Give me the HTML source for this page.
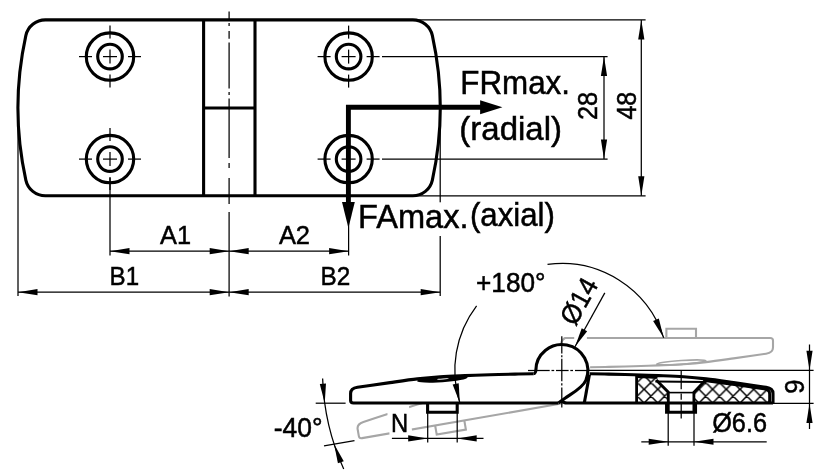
<!DOCTYPE html>
<html><head><meta charset="utf-8"><title>Hinge drawing</title>
<style>
html,body{margin:0;padding:0;background:#fff;}
svg{display:block;will-change:transform;}
text{font-family:"Liberation Sans",sans-serif;fill:#000;}
</style></head>
<body>
<svg width="827" height="472" viewBox="0 0 827 472">
<rect width="827" height="472" fill="#fff"/>
<path d="M45.37,19.9 A20.0,20.0 0 0 0 25.83,35.61 A337.0,337.0 0 0 0 25.83,180.09 A20.0,20.0 0 0 0 45.37,195.8 L412.83,195.8 A20.0,20.0 0 0 0 432.37,180.09 A337.0,337.0 0 0 0 432.37,35.61 A20.0,20.0 0 0 0 412.83,19.9 Z" stroke="#000" stroke-width="3.1" fill="none" />
<line x1="203.60" y1="19.90" x2="203.60" y2="195.80" stroke="#000" stroke-width="3.1" />
<line x1="255.00" y1="19.90" x2="255.00" y2="195.80" stroke="#000" stroke-width="3.1" />
<line x1="203.60" y1="108.00" x2="255.00" y2="108.00" stroke="#000" stroke-width="3.1" />
<line x1="229.10" y1="11.50" x2="229.10" y2="20.00" stroke="#000" stroke-width="1.25" />
<line x1="229.10" y1="23.00" x2="229.10" y2="26.00" stroke="#000" stroke-width="1.25" />
<line x1="229.10" y1="31.00" x2="229.10" y2="38.70" stroke="#000" stroke-width="1.25" />
<line x1="229.10" y1="42.60" x2="229.10" y2="88.50" stroke="#000" stroke-width="1.25" />
<line x1="229.10" y1="92.00" x2="229.10" y2="95.00" stroke="#000" stroke-width="1.25" />
<line x1="229.10" y1="98.40" x2="229.10" y2="158.00" stroke="#000" stroke-width="1.25" />
<line x1="229.10" y1="163.00" x2="229.10" y2="168.00" stroke="#000" stroke-width="1.25" />
<line x1="229.10" y1="178.00" x2="229.10" y2="204.00" stroke="#000" stroke-width="1.25" />
<line x1="229.10" y1="212.00" x2="229.10" y2="296.50" stroke="#000" stroke-width="1.25" />
<circle cx="110" cy="56.6" r="23.7" fill="none" stroke="#000" stroke-width="3.1"/>
<circle cx="110" cy="56.6" r="12.3" fill="none" stroke="#000" stroke-width="3.1"/>
<line x1="103.00" y1="56.60" x2="117.00" y2="56.60" stroke="#000" stroke-width="1.25" />
<line x1="110.00" y1="49.60" x2="110.00" y2="63.60" stroke="#000" stroke-width="1.25" />
<line x1="92.00" y1="56.60" x2="79.00" y2="56.60" stroke="#000" stroke-width="1.25" />
<line x1="110.00" y1="38.60" x2="110.00" y2="25.60" stroke="#000" stroke-width="1.25" />
<line x1="128.00" y1="56.60" x2="141.00" y2="56.60" stroke="#000" stroke-width="1.25" />
<line x1="110.00" y1="74.60" x2="110.00" y2="87.60" stroke="#000" stroke-width="1.25" />
<circle cx="110" cy="159.1" r="23.7" fill="none" stroke="#000" stroke-width="3.1"/>
<circle cx="110" cy="159.1" r="12.3" fill="none" stroke="#000" stroke-width="3.1"/>
<line x1="103.00" y1="159.10" x2="117.00" y2="159.10" stroke="#000" stroke-width="1.25" />
<line x1="110.00" y1="152.10" x2="110.00" y2="166.10" stroke="#000" stroke-width="1.25" />
<line x1="92.00" y1="159.10" x2="79.00" y2="159.10" stroke="#000" stroke-width="1.25" />
<line x1="110.00" y1="141.10" x2="110.00" y2="128.10" stroke="#000" stroke-width="1.25" />
<line x1="128.00" y1="159.10" x2="141.00" y2="159.10" stroke="#000" stroke-width="1.25" />
<line x1="110.00" y1="177.10" x2="110.00" y2="190.10" stroke="#000" stroke-width="1.25" />
<circle cx="348.6" cy="56.6" r="23.7" fill="none" stroke="#000" stroke-width="3.1"/>
<circle cx="348.6" cy="56.6" r="12.3" fill="none" stroke="#000" stroke-width="3.1"/>
<line x1="341.60" y1="56.60" x2="355.60" y2="56.60" stroke="#000" stroke-width="1.25" />
<line x1="348.60" y1="49.60" x2="348.60" y2="63.60" stroke="#000" stroke-width="1.25" />
<line x1="330.60" y1="56.60" x2="317.60" y2="56.60" stroke="#000" stroke-width="1.25" />
<line x1="348.60" y1="38.60" x2="348.60" y2="25.60" stroke="#000" stroke-width="1.25" />
<line x1="366.60" y1="56.60" x2="379.60" y2="56.60" stroke="#000" stroke-width="1.25" />
<line x1="348.60" y1="74.60" x2="348.60" y2="87.60" stroke="#000" stroke-width="1.25" />
<circle cx="348.6" cy="159.1" r="23.7" fill="none" stroke="#000" stroke-width="3.1"/>
<circle cx="348.6" cy="159.1" r="12.3" fill="none" stroke="#000" stroke-width="3.1"/>
<line x1="341.60" y1="159.10" x2="355.60" y2="159.10" stroke="#000" stroke-width="1.25" />
<line x1="348.60" y1="152.10" x2="348.60" y2="166.10" stroke="#000" stroke-width="1.25" />
<line x1="330.60" y1="159.10" x2="317.60" y2="159.10" stroke="#000" stroke-width="1.25" />
<line x1="348.60" y1="141.10" x2="348.60" y2="128.10" stroke="#000" stroke-width="1.25" />
<line x1="366.60" y1="159.10" x2="379.60" y2="159.10" stroke="#000" stroke-width="1.25" />
<line x1="348.60" y1="177.10" x2="348.60" y2="190.10" stroke="#000" stroke-width="1.25" />
<line x1="110.00" y1="178.00" x2="110.00" y2="255.50" stroke="#000" stroke-width="1.25" />
<line x1="348.60" y1="178.00" x2="348.60" y2="255.50" stroke="#000" stroke-width="1.25" />
<line x1="382.00" y1="56.60" x2="607.60" y2="56.60" stroke="#000" stroke-width="1.25" />
<line x1="382.00" y1="159.10" x2="607.60" y2="159.10" stroke="#000" stroke-width="1.25" />
<line x1="413.00" y1="19.90" x2="645.60" y2="19.90" stroke="#000" stroke-width="1.25" />
<line x1="413.00" y1="195.80" x2="645.60" y2="195.80" stroke="#000" stroke-width="1.25" />
<line x1="18.00" y1="107.85" x2="18.00" y2="296.00" stroke="#000" stroke-width="1.25" />
<line x1="440.20" y1="107.85" x2="440.20" y2="296.00" stroke="#000" stroke-width="1.25" />
<line x1="604.00" y1="56.60" x2="604.00" y2="159.10" stroke="#000" stroke-width="1.25" />
<polygon points="604.00,56.60 607.10,76.10 600.90,76.10" fill="#000"/>
<polygon points="604.00,159.10 600.90,139.60 607.10,139.60" fill="#000"/>
<line x1="641.30" y1="19.90" x2="641.30" y2="195.80" stroke="#000" stroke-width="1.25" />
<polygon points="641.30,19.90 644.40,39.40 638.20,39.40" fill="#000"/>
<polygon points="641.30,195.80 638.20,176.30 644.40,176.30" fill="#000"/>
<text x="-0.93" y="0" font-size="27.4" textLength="28.26" lengthAdjust="spacingAndGlyphs" stroke="#000" stroke-width="0.5" transform="translate(597.4 119.1) rotate(-90)">28</text>
<text x="0.0" y="0" font-size="27.4" textLength="27.83" lengthAdjust="spacingAndGlyphs" stroke="#000" stroke-width="0.5" transform="translate(636.1 119.6) rotate(-90)">48</text>
<line x1="110.00" y1="251.20" x2="348.60" y2="251.20" stroke="#000" stroke-width="1.25" />
<polygon points="110.00,251.20 129.50,248.10 129.50,254.30" fill="#000"/>
<polygon points="229.20,251.20 209.70,254.30 209.70,248.10" fill="#000"/>
<polygon points="229.20,251.20 248.70,248.10 248.70,254.30" fill="#000"/>
<polygon points="348.60,251.20 329.10,254.30 329.10,248.10" fill="#000"/>
<line x1="18.00" y1="292.20" x2="440.20" y2="292.20" stroke="#000" stroke-width="1.25" />
<polygon points="18.00,292.20 37.50,289.10 37.50,295.30" fill="#000"/>
<polygon points="229.20,292.20 209.70,295.30 209.70,289.10" fill="#000"/>
<polygon points="229.20,292.20 248.70,289.10 248.70,295.30" fill="#000"/>
<polygon points="440.20,292.20 420.70,295.30 420.70,289.10" fill="#000"/>
<text x="160.0" y="243.6" font-size="26.4" textLength="31.03" lengthAdjust="spacingAndGlyphs" stroke="#000" stroke-width="0.5">A1</text>
<text x="278.9" y="243.6" font-size="26.4" textLength="31.14" lengthAdjust="spacingAndGlyphs" stroke="#000" stroke-width="0.5">A2</text>
<text x="109.57" y="284.7" font-size="26.4" textLength="29.5" lengthAdjust="spacingAndGlyphs" stroke="#000" stroke-width="0.5">B1</text>
<text x="320.46" y="284.7" font-size="26.4" textLength="29.72" lengthAdjust="spacingAndGlyphs" stroke="#000" stroke-width="0.5">B2</text>
<path d="M348.4,204 L348.4,107.25 L482,107.25" stroke="#000" stroke-width="4.9" fill="none" stroke-linejoin="miter"/>
<polygon points="502.40,107.25 480.10,114.15 480.10,100.35" fill="#000"/>
<polygon points="348.40,228.00 342.00,202.00 354.80,202.00" fill="#000"/>
<rect x="358" y="202.3" width="198" height="33.7" fill="#fff"/>
<text x="460.24" y="93.75" font-size="33.8" textLength="109.79" lengthAdjust="spacingAndGlyphs" stroke="#000" stroke-width="0.5">FRmax.</text>
<text x="459.33" y="140.3" font-size="33.5" textLength="102.63" lengthAdjust="spacingAndGlyphs" stroke="#000" stroke-width="0.5">(radial)</text>
<text x="358.07" y="227.75" font-size="33.8" textLength="110.4" lengthAdjust="spacingAndGlyphs" stroke="#000" stroke-width="0.5">FAmax.</text>
<text x="469.94" y="225.6" font-size="33.5" textLength="85.03" lengthAdjust="spacingAndGlyphs" stroke="#000" stroke-width="0.5">(axial)</text>
<g transform="rotate(-9.85 561.8 370.5)">
<path d="M533.50,373.80 C530.42,373.85 522.25,373.95 515.00,374.10 C507.75,374.25 498.33,374.45 490.00,374.70 C481.67,374.95 473.33,375.25 465.00,375.60 C456.67,375.95 447.93,376.25 440.00,376.80 C432.07,377.35 425.73,377.93 417.40,378.90 C409.07,379.87 397.90,381.50 390.00,382.60 C382.10,383.70 375.42,384.72 370.00,385.50 C364.58,386.28 359.58,387.00 357.50,387.30 Q350.6,388.3 350.6,393.5 L350.6,400.5 Q350.6,403.0 353.5,403.0 L558.5,403.0" stroke="#a6a6a6" stroke-width="2.1" fill="none" />
<path d="M427.6,403.0 L427.6,412.3 L457.2,412.3 L457.2,403.0" stroke="#a6a6a6" stroke-width="2.1" fill="none" />
</g>
<g transform="rotate(180 561.8 370.5)">
<path d="M533.50,373.80 C530.42,373.85 522.25,373.95 515.00,374.10 C507.75,374.25 498.33,374.45 490.00,374.70 C481.67,374.95 473.33,375.25 465.00,375.60 C456.67,375.95 447.93,376.25 440.00,376.80 C432.07,377.35 425.73,377.93 417.40,378.90 C409.07,379.87 397.90,381.50 390.00,382.60 C382.10,383.70 375.42,384.72 370.00,385.50 C364.58,386.28 359.58,387.00 357.50,387.30 Q350.6,388.3 350.6,393.5 L350.6,400.5 Q350.6,403.0 353.5,403.0 L558.5,403.0 Q561,402 562.5,398" stroke="#a6a6a6" stroke-width="2.1" fill="none" />
<path d="M427.6,403.0 L427.6,412.3 L457.2,412.3 L457.2,403.0" stroke="#a6a6a6" stroke-width="2.1" fill="none" />
<ellipse cx="442.3" cy="378.6" rx="24.6" ry="1.9" fill="none" stroke="#a6a6a6" stroke-width="1.7" transform="rotate(-4 442.3 378.6)"/>
</g>
<rect x="574.2" y="335" width="12.7" height="6" fill="#fff"/>
<polygon points="386.5,404.6 408.8,404.6 412.7,436 389.7,436" fill="#fff"/>
<path d="M533.50,373.80 C530.42,373.85 522.25,373.95 515.00,374.10 C507.75,374.25 498.33,374.45 490.00,374.70 C481.67,374.95 473.33,375.25 465.00,375.60 C456.67,375.95 447.93,376.25 440.00,376.80 C432.07,377.35 425.73,377.93 417.40,378.90 C409.07,379.87 397.90,381.50 390.00,382.60 C382.10,383.70 375.42,384.72 370.00,385.50 C364.58,386.28 359.58,387.00 357.50,387.30 Q350.6,388.3 350.6,393.5 L350.6,400.5 Q350.6,403.0 353.5,403.0 L558.5,403.0 L558.5,403.0 L580,389 L585.91,380.24 L561.8,370.5 L536,370.5 Z" stroke="none" stroke-width="0" fill="#fff" />
<circle cx="561.8" cy="370.5" r="26.0" fill="#fff"/>
<path d="M533.50,373.80 C530.42,373.85 522.25,373.95 515.00,374.10 C507.75,374.25 498.33,374.45 490.00,374.70 C481.67,374.95 473.33,375.25 465.00,375.60 C456.67,375.95 447.93,376.25 440.00,376.80 C432.07,377.35 425.73,377.93 417.40,378.90 C409.07,379.87 397.90,381.50 390.00,382.60 C382.10,383.70 375.42,384.72 370.00,385.50 C364.58,386.28 359.58,387.00 357.50,387.30 Q350.6,388.3 350.6,393.5 L350.6,400.5 Q350.6,403.0 353.5,403.0 L558.5,403.0" stroke="#000" stroke-width="3.1" fill="none" />
<path d="M533.5,373.8 Q536,373.6 536.1,368.00 L535.8,370.50 A26.0,26.0 0 1 1 585.91,380.24 C582.91,387.64 572.5,393.2 565,398.2 Q561.2,400.8 558.5,403.0" stroke="#000" stroke-width="3.1" fill="none" stroke-linejoin="round"/>
<g transform="rotate(-4 442.3 379.2)"><ellipse cx="442.3" cy="379.2" rx="25.4" ry="3.0" fill="#000"/><ellipse cx="443" cy="379.0" rx="6" ry="0.55" fill="#fff"/></g>
<path d="M427.6,403.0 L427.6,412.3 L457.2,412.3 L457.2,403.0" stroke="#000" stroke-width="3.1" fill="none" />
<path d="M589.60,373.80 C592.77,373.85 601.27,373.95 608.60,374.10 C615.93,374.25 625.27,374.45 633.60,374.70 C641.93,374.95 650.27,375.25 658.60,375.60 C666.93,375.95 675.67,376.25 683.60,376.80 C691.53,377.35 697.87,377.93 706.20,378.90 C714.53,379.87 725.70,381.50 733.60,382.60 C741.50,383.70 748.18,384.72 753.60,385.50 C759.02,386.28 764.02,387.00 766.10,387.30 Q773,388.2 773,393.5 L773,403.0 L584.3,403.0 L589.6,373.8 Z" stroke="none" stroke-width="0" fill="#fff" />
<line x1="587.00" y1="370.30" x2="813.60" y2="370.30" stroke="#000" stroke-width="1.25" />
<path d="M773,403.0 L567,403.0 Q563.5,403.0 561.8,400.8" stroke="#000" stroke-width="3.1" fill="none" stroke-linecap="butt"/>
<path d="M589.4,374.8 L584.3,403.0" stroke="#000" stroke-width="3.1" fill="none" />
<defs><pattern id="h" x="0.2" y="5.7" width="13.7" height="13.7" patternUnits="userSpaceOnUse"><path d="M-1,-1 L14.7,14.7 M-1,14.7 L14.7,-1 M-1,12.7 L1,14.7 M12.7,-1 L14.7,1 M12.7,14.7 L14.7,12.7 M-1,1 L1,-1" stroke="#000" stroke-width="1.5" fill="none"/></pattern></defs>
<path d="M636.60,403.00 L636.60,376.01 L640.00,375.53 L648.00,375.82 L656.50,376.12 L656.50,380.40 L668.30,392.20 L668.30,403.00 Z M693.60,403.00 L693.60,392.20 L704.60,381.00 L704.60,379.35 L715.00,380.69 L730.00,382.71 L745.00,384.85 L760.00,387.02 L766.10,387.90 L770.80,388.80 L770.80,403.00 Z" stroke="none" stroke-width="0" fill="url(#h)" />
<path d="M589.60,373.80 C592.77,373.85 601.27,373.95 608.60,374.10 C615.93,374.25 625.27,374.45 633.60,374.70 C641.93,374.95 650.27,375.25 658.60,375.60 C666.93,375.95 675.67,376.25 683.60,376.80 C691.53,377.35 697.87,377.93 706.20,378.90 C714.53,379.87 725.70,381.50 733.60,382.60 C741.50,383.70 748.18,384.72 753.60,385.50 C759.02,386.28 764.02,387.00 766.10,387.30 Q773,388.2 773,393.5 L773,403.0" stroke="#000" stroke-width="3.1" fill="none" />
<path d="M637.00,376.72 C638.17,376.76 641.83,376.90 644.00,376.97 C646.17,377.05 647.75,377.11 650.00,377.19 C652.25,377.27 656.25,377.42 657.50,377.46" stroke="#000" stroke-width="2.8" fill="none" />
<path d="M703.50,380.55 C704.58,380.68 706.42,380.85 710.00,381.31 C713.58,381.78 720.00,382.65 725.00,383.34 C730.00,384.02 735.00,384.72 740.00,385.43 C745.00,386.14 751.00,387.02 755.00,387.60 C759.00,388.18 762.50,388.68 764.00,388.90 Q769.6,389.6 769.6,394 L769.6,403.0" stroke="#000" stroke-width="2.8" fill="none" />
<path d="M636.6,403.0 L636.6,375.81" stroke="#000" stroke-width="2.8" fill="none" />
<path d="M656.2,380.0 L668.3,392.2 L668.3,412.3" stroke="#000" stroke-width="2.8" fill="none" stroke-linejoin="miter"/>
<path d="M704.9,380.8 L693.9,392.2 L693.9,412.3" stroke="#000" stroke-width="2.8" fill="none" stroke-linejoin="miter"/>
<line x1="655.40" y1="381.50" x2="705.40" y2="382.00" stroke="#000" stroke-width="2.2" />
<line x1="668.30" y1="392.60" x2="693.90" y2="392.60" stroke="#000" stroke-width="1.6" />
<path d="M666.6,403.0 L666.6,412.2 L695.5,412.2 L695.5,403.0" stroke="#000" stroke-width="3.1" fill="none" />
<line x1="528.00" y1="370.50" x2="549.70" y2="370.50" stroke="#000" stroke-width="1.25" />
<line x1="551.50" y1="370.50" x2="554.20" y2="370.50" stroke="#000" stroke-width="1.25" />
<line x1="556.00" y1="370.50" x2="568.60" y2="370.50" stroke="#000" stroke-width="1.25" />
<line x1="570.30" y1="370.50" x2="573.00" y2="370.50" stroke="#000" stroke-width="1.25" />
<line x1="575.00" y1="370.50" x2="587.50" y2="370.50" stroke="#000" stroke-width="1.25" />
<line x1="561.80" y1="336.30" x2="561.80" y2="353.40" stroke="#000" stroke-width="1.25" />
<line x1="561.80" y1="355.20" x2="561.80" y2="357.20" stroke="#000" stroke-width="1.25" />
<line x1="561.80" y1="358.80" x2="561.80" y2="381.30" stroke="#000" stroke-width="1.25" />
<line x1="561.80" y1="383.20" x2="561.80" y2="385.60" stroke="#000" stroke-width="1.25" />
<line x1="561.80" y1="387.60" x2="561.80" y2="407.60" stroke="#000" stroke-width="1.25" />
<line x1="681.20" y1="370.30" x2="681.20" y2="389.20" stroke="#000" stroke-width="1.25" />
<line x1="681.20" y1="393.40" x2="681.20" y2="399.80" stroke="#000" stroke-width="1.25" />
<line x1="681.20" y1="401.90" x2="681.20" y2="418.50" stroke="#000" stroke-width="1.25" />
<line x1="584.00" y1="403.40" x2="813.60" y2="403.40" stroke="#000" stroke-width="1.25" />
<line x1="809.50" y1="344.50" x2="809.50" y2="429.00" stroke="#000" stroke-width="1.25" />
<polygon points="809.50,370.30 806.40,350.80 812.60,350.80" fill="#000"/>
<polygon points="809.50,403.40 812.60,422.90 806.40,422.90" fill="#000"/>
<text x="-0.94" y="0" font-size="27.4" textLength="14.3" lengthAdjust="spacingAndGlyphs" stroke="#000" stroke-width="0.5" transform="translate(804.1 392.7) rotate(-90)">9</text>
<line x1="668.20" y1="412.00" x2="668.20" y2="445.80" stroke="#000" stroke-width="1.25" />
<line x1="694.00" y1="412.00" x2="694.00" y2="445.80" stroke="#000" stroke-width="1.25" />
<line x1="641.30" y1="441.75" x2="766.70" y2="441.75" stroke="#000" stroke-width="1.25" />
<polygon points="668.20,441.75 648.70,444.85 648.70,438.65" fill="#000"/>
<polygon points="694.00,441.75 713.50,438.65 713.50,444.85" fill="#000"/>
<text x="712.18" y="431.5" font-size="27.4" textLength="54.89" lengthAdjust="spacingAndGlyphs" stroke="#000" stroke-width="0.5">Ø6.6</text>
<line x1="427.70" y1="412.00" x2="427.70" y2="442.50" stroke="#000" stroke-width="1.25" />
<line x1="457.20" y1="412.00" x2="457.20" y2="442.50" stroke="#000" stroke-width="1.25" />
<line x1="391.90" y1="438.40" x2="483.50" y2="438.40" stroke="#000" stroke-width="1.25" />
<polygon points="427.70,438.40 408.20,441.50 408.20,435.30" fill="#000"/>
<polygon points="457.20,438.40 476.70,435.30 476.70,441.50" fill="#000"/>
<text x="391.02" y="431.8" font-size="25.3" textLength="17.18" lengthAdjust="spacingAndGlyphs" stroke="#000" stroke-width="0.5">N</text>
<line x1="574.99" y1="346.71" x2="604.80" y2="292.92" stroke="#000" stroke-width="1.25" />
<polygon points="574.99,346.71 581.73,328.15 587.15,331.16" fill="#000"/>
<text x="-0.94" y="0" font-size="27.4" textLength="48.67" lengthAdjust="spacingAndGlyphs" stroke="#000" stroke-width="0.5" transform="translate(575.7 326.1) rotate(-61)">Ø14</text>
<path d="M459.86,403.00 A107,107 0 0 1 476.60,305.77" stroke="#000" stroke-width="1.25" fill="none" />
<path d="M547.51,264.46 A107,107 0 0 1 663.65,337.70" stroke="#000" stroke-width="1.25" fill="none" />
<polygon points="663.65,337.70 653.13,320.99 658.83,318.55" fill="#000"/>
<polygon points="459.86,403.00 452.65,384.62 458.70,383.29" fill="#000"/>
<text x="476.04" y="291.7" font-size="27.4" textLength="69.54" lengthAdjust="spacingAndGlyphs" stroke="#000" stroke-width="0.5">+180°</text>
<path d="M322.63,378.50 A239.3,239.3 0 0 0 343.71,469.00" stroke="#000" stroke-width="1.25" fill="none" />
<polygon points="324.74,403.20 319.81,384.08 325.98,383.49" fill="#000"/>
<polygon points="334.07,444.00 343.74,461.22 337.92,463.37" fill="#000"/>
<line x1="315.70" y1="403.20" x2="345.60" y2="403.20" stroke="#000" stroke-width="1.25" />
<line x1="324.00" y1="445.80" x2="354.50" y2="440.70" stroke="#000" stroke-width="1.25" />
<text x="273.78" y="436.6" font-size="27.4" textLength="48.81" lengthAdjust="spacingAndGlyphs" stroke="#000" stroke-width="0.5">-40°</text>
</svg>
</body></html>
